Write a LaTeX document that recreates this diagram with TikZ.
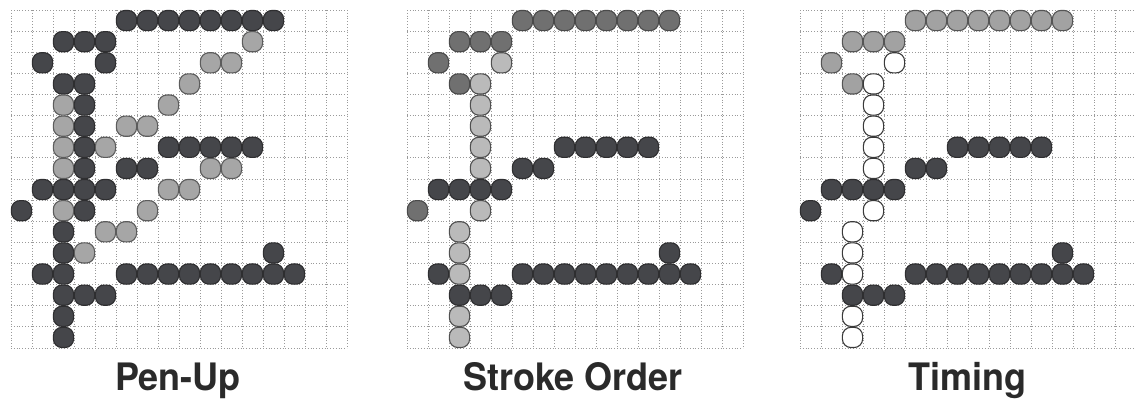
\documentclass[tikz,border=0pt]{standalone}
\usepackage{fontspec}
\setmainfont{TeX Gyre Heros}
\definecolor{dkc}{HTML}{45464A}
\definecolor{dkline}{HTML}{2E2E30}
\definecolor{gyc}{HTML}{A6A6A6}
\definecolor{gyline}{HTML}{5C5C5C}
\definecolor{mdc}{HTML}{707070}
\definecolor{mdline}{HTML}{4A4A4A}
\definecolor{ltc}{HTML}{BABABA}
\definecolor{ltline}{HTML}{505050}
\definecolor{tmc}{HTML}{A2A2A2}
\definecolor{tmline}{HTML}{555555}
\definecolor{whline}{HTML}{3A3A3A}
\definecolor{gridc}{HTML}{9A9A9A}
\definecolor{labc}{HTML}{2A2A2A}
\begin{document}
\begin{tikzpicture}[x=1pt,y=-1pt,
  cell/.style={rectangle, rounded corners=8.5pt, minimum width=20.2pt, minimum height=20.2pt, inner sep=0pt, line width=1.1pt},
  dk/.style={cell, fill=dkc, draw=dkline},
  gy/.style={cell, fill=gyc, draw=gyline},
  md/.style={cell, fill=mdc, draw=mdline},
  lt/.style={cell, fill=ltc, draw=ltline},
  tm/.style={cell, fill=tmc, draw=tmline},
  wh/.style={cell, fill=white, draw=whline},
  gridline/.style={draw=gridc, dotted, line width=0.8pt},
  lab/.style={font=\fontsize{36}{42}\selectfont\bfseries, anchor=base, text=labc, inner sep=0pt, yscale=1.05}]
\useasboundingbox (0,0) rectangle (1134,400);
\fill[white] (0,0) rectangle (1134,400);
% grids
\foreach \X in {11,407,800}{
  \foreach \i in {0,...,16}{
    \draw[gridline] (\X+21*\i,10) -- (\X+21*\i,348);
    \draw[gridline] (\X,10+21.125*\i) -- (\X+336,10+21.125*\i);
  }
}
% ---------- Pen-Up ----------
\def\X{11}
\foreach \c/\r in {5/0,6/0,7/0,8/0,9/0,10/0,11/0,12/0, 2/1,3/1,4/1, 1/2,4/2, 2/3,3/3, 3/4, 3/5, 3/6,7/6,8/6,9/6,10/6,11/6, 3/7,5/7,6/7, 1/8,2/8,3/8,4/8, 0/9,3/9, 2/10, 2/11,12/11, 1/12,2/12,5/12,6/12,7/12,8/12,9/12,10/12,11/12,12/12,13/12, 2/13,3/13,4/13, 2/14, 2/15}
  \node[dk] (pu-\c-\r) at (\X+21*\c+10.5, 10+21.125*\r+10.56) {};
\foreach \c/\r in {11/1, 9/2,10/2, 8/3, 2/4,7/4, 2/5,5/5,6/5, 2/6,4/6, 2/7,9/7,10/7, 7/8,8/8, 2/9,6/9, 4/10,5/10, 3/11}
  \node[gy] (pu-\c-\r) at (\X+21*\c+10.5, 10+21.125*\r+10.56) {};
% ---------- Stroke Order ----------
\def\X{407}
\foreach \c/\r in {5/0,6/0,7/0,8/0,9/0,10/0,11/0,12/0, 2/1,3/1,4/1, 1/2, 2/3, 0/9}
  \node[md] (so-\c-\r) at (\X+21*\c+10.5, 10+21.125*\r+10.56) {};
\foreach \c/\r in {4/2, 3/3, 3/4, 3/5, 3/6, 3/7, 3/9, 2/10, 2/11, 2/12, 2/14, 2/15}
  \node[lt] (so-\c-\r) at (\X+21*\c+10.5, 10+21.125*\r+10.56) {};
\foreach \c/\r in {7/6,8/6,9/6,10/6,11/6, 5/7,6/7, 1/8,2/8,3/8,4/8, 12/11, 1/12,5/12,6/12,7/12,8/12,9/12,10/12,11/12,12/12,13/12, 2/13,3/13,4/13}
  \node[dk] (so-\c-\r) at (\X+21*\c+10.5, 10+21.125*\r+10.56) {};
% ---------- Timing ----------
\def\X{800}
\foreach \c/\r in {5/0,6/0,7/0,8/0,9/0,10/0,11/0,12/0, 2/1,3/1,4/1, 1/2, 2/3}
  \node[tm] (ti-\c-\r) at (\X+21*\c+10.5, 10+21.125*\r+10.56) {};
\foreach \c/\r in {4/2, 3/3, 3/4, 3/5, 3/6, 3/7, 3/9, 2/10, 2/11, 2/12, 2/14, 2/15}
  \node[wh] (ti-\c-\r) at (\X+21*\c+10.5, 10+21.125*\r+10.56) {};
\foreach \c/\r in {7/6,8/6,9/6,10/6,11/6, 5/7,6/7, 1/8,2/8,3/8,4/8, 0/9, 12/11, 1/12,5/12,6/12,7/12,8/12,9/12,10/12,11/12,12/12,13/12, 2/13,3/13,4/13}
  \node[dk] (ti-\c-\r) at (\X+21*\c+10.5, 10+21.125*\r+10.56) {};
% labels
\node[lab] (l1) at (178,390) {Pen-Up};
\node[lab] (l2) at (573,390) {Stroke Order};
\node[lab] (l3) at (967,390) {Timing};
\end{tikzpicture}
\end{document}
